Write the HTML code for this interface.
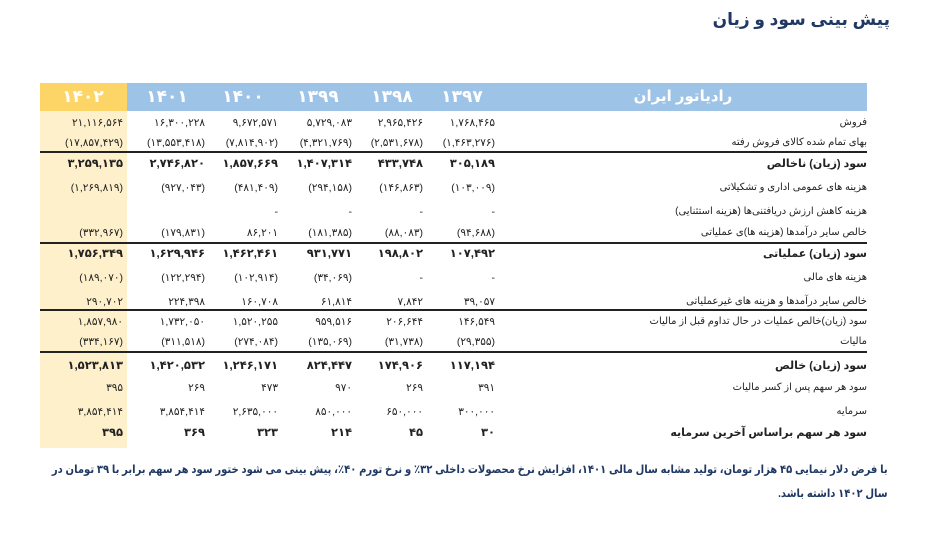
<!DOCTYPE html>
<html><head><meta charset="utf-8"><style>
body{margin:0;width:928px;height:534px;background:#fff;position:relative;overflow:hidden;font-family:"Liberation Sans","DejaVu Sans",sans-serif;}
.abs{position:absolute}
.ycol{left:40px;top:83px;width:87px;height:365px;background:#fdf0cb}
.hb{left:127px;top:83px;width:740px;height:28px;background:#9dc3e6}
.hy{left:40px;top:83px;width:87px;height:28px;background:#fdd566}
.h{position:absolute;top:83px;height:28px;line-height:28px;color:#fff;font-weight:bold;font-size:17px;transform:translateX(-50%);white-space:nowrap}
.r{position:absolute;left:0;width:928px;height:20px;line-height:20px;font-size:10.5px;color:#222}
.r span{position:absolute;direction:ltr;unicode-bidi:embed;white-space:nowrap}
.r .l{right:61px;direction:rtl;font-size:10px}
.c1{right:805px}.c2{right:723px}.c3{right:650px}.c4{right:576px}.c5{right:505px}.c6{right:433px}
.b{font-weight:bold;font-size:11.5px}
.b .l{font-size:11px}
.line{position:absolute;left:40px;width:827px;height:2px;background:#222}
.title{position:absolute;right:38px;top:10px;direction:rtl;color:#1f3864;font-weight:bold;font-size:17px}
.foot{position:absolute;right:40px;direction:rtl;color:#1f3864;font-weight:bold;font-size:11.5px;line-height:24px;top:458px;white-space:nowrap;text-align:right;transform:scaleX(0.87);transform-origin:right top}
</style></head><body>
<div class="title">پیش بینی سود و زیان</div>
<div class="abs ycol"></div>
<div class="abs hb"></div>
<div class="abs hy"></div>
<div class="h" style="left:83px">۱۴۰۲</div>
<div class="h" style="left:167px">۱۴۰۱</div>
<div class="h" style="left:243px">۱۴۰۰</div>
<div class="h" style="left:318px">۱۳۹۹</div>
<div class="h" style="left:392px">۱۳۹۸</div>
<div class="h" style="left:462px">۱۳۹۷</div>
<div class="h" style="left:683px;font-size:15px;direction:rtl">رادیاتور ایران</div>

<div class="r" style="top:113px"><span class="c1">۲۱,۱۱۶,۵۶۴</span><span class="c2">۱۶,۳۰۰,۲۲۸</span><span class="c3">۹,۶۷۲,۵۷۱</span><span class="c4">۵,۷۲۹,۰۸۳</span><span class="c5">۲,۹۶۵,۴۲۶</span><span class="c6">۱,۷۶۸,۴۶۵</span><span class="l">فروش</span></div>
<div class="r" style="top:133px"><span class="c1">(۱۷,۸۵۷,۴۲۹)</span><span class="c2">(۱۳,۵۵۳,۴۱۸)</span><span class="c3">(۷,۸۱۴,۹۰۲)</span><span class="c4">(۴,۳۲۱,۷۶۹)</span><span class="c5">(۲,۵۳۱,۶۷۸)</span><span class="c6">(۱,۴۶۳,۲۷۶)</span><span class="l">بهای تمام شده کالای فروش رفته</span></div>
<div class="line" style="top:151px"></div>
<div class="r b" style="top:154px"><span class="c1">۳,۲۵۹,۱۳۵</span><span class="c2">۲,۷۴۶,۸۲۰</span><span class="c3">۱,۸۵۷,۶۶۹</span><span class="c4">۱,۴۰۷,۳۱۴</span><span class="c5">۴۳۳,۷۴۸</span><span class="c6">۳۰۵,۱۸۹</span><span class="l">سود (زیان) ناخالص</span></div>
<div class="r" style="top:178px"><span class="c1">(۱,۲۶۹,۸۱۹)</span><span class="c2">(۹۲۷,۰۴۳)</span><span class="c3">(۴۸۱,۴۰۹)</span><span class="c4">(۲۹۴,۱۵۸)</span><span class="c5">(۱۴۶,۸۶۳)</span><span class="c6">(۱۰۳,۰۰۹)</span><span class="l">هزینه های عمومی اداری و تشکیلاتی</span></div>
<div class="r" style="top:202px"><span class="c3">-</span><span class="c4">-</span><span class="c5">-</span><span class="c6">-</span><span class="l">هزینه کاهش ارزش دریافتنی‌ها (هزینه استثنایی)</span></div>
<div class="r" style="top:223px"><span class="c1">(۳۳۲,۹۶۷)</span><span class="c2">(۱۷۹,۸۳۱)</span><span class="c3">۸۶,۲۰۱</span><span class="c4">(۱۸۱,۳۸۵)</span><span class="c5">(۸۸,۰۸۳)</span><span class="c6">(۹۴,۶۸۸)</span><span class="l">خالص سایر درآمدها (هزینه ها)ی عملیاتی</span></div>
<div class="line" style="top:242px"></div>
<div class="r b" style="top:244px"><span class="c1">۱,۷۵۶,۳۴۹</span><span class="c2">۱,۶۲۹,۹۴۶</span><span class="c3">۱,۴۶۲,۴۶۱</span><span class="c4">۹۳۱,۷۷۱</span><span class="c5">۱۹۸,۸۰۲</span><span class="c6">۱۰۷,۴۹۲</span><span class="l">سود (زیان) عملیاتی</span></div>
<div class="r" style="top:268px"><span class="c1">(۱۸۹,۰۷۰)</span><span class="c2">(۱۲۲,۲۹۴)</span><span class="c3">(۱۰۲,۹۱۴)</span><span class="c4">(۳۴,۰۶۹)</span><span class="c5">-</span><span class="c6">-</span><span class="l">هزینه های مالی</span></div>
<div class="r" style="top:292px"><span class="c1">۲۹۰,۷۰۲</span><span class="c2">۲۲۴,۳۹۸</span><span class="c3">۱۶۰,۷۰۸</span><span class="c4">۶۱,۸۱۴</span><span class="c5">۷,۸۴۲</span><span class="c6">۳۹,۰۵۷</span><span class="l">خالص سایر درآمدها و هزینه های غیرعملیاتی</span></div>
<div class="line" style="top:309px"></div>
<div class="r" style="top:312px"><span class="c1">۱,۸۵۷,۹۸۰</span><span class="c2">۱,۷۳۲,۰۵۰</span><span class="c3">۱,۵۲۰,۲۵۵</span><span class="c4">۹۵۹,۵۱۶</span><span class="c5">۲۰۶,۶۴۴</span><span class="c6">۱۴۶,۵۴۹</span><span class="l">سود (زیان)خالص عملیات در حال تداوم قبل از مالیات</span></div>
<div class="r" style="top:332px"><span class="c1">(۳۳۴,۱۶۷)</span><span class="c2">(۳۱۱,۵۱۸)</span><span class="c3">(۲۷۴,۰۸۴)</span><span class="c4">(۱۳۵,۰۶۹)</span><span class="c5">(۳۱,۷۳۸)</span><span class="c6">(۲۹,۳۵۵)</span><span class="l">مالیات</span></div>
<div class="line" style="top:351px"></div>
<div class="r b" style="top:356px"><span class="c1">۱,۵۲۳,۸۱۳</span><span class="c2">۱,۴۲۰,۵۳۲</span><span class="c3">۱,۲۴۶,۱۷۱</span><span class="c4">۸۲۴,۴۴۷</span><span class="c5">۱۷۴,۹۰۶</span><span class="c6">۱۱۷,۱۹۴</span><span class="l">سود (زیان) خالص</span></div>
<div class="r" style="top:378px"><span class="c1">۳۹۵</span><span class="c2">۲۶۹</span><span class="c3">۴۷۳</span><span class="c4">۹۷۰</span><span class="c5">۲۶۹</span><span class="c6">۳۹۱</span><span class="l">سود هر سهم پس از کسر مالیات</span></div>
<div class="r" style="top:402px"><span class="c1">۳,۸۵۴,۴۱۴</span><span class="c2">۳,۸۵۴,۴۱۴</span><span class="c3">۲,۶۳۵,۰۰۰</span><span class="c4">۸۵۰,۰۰۰</span><span class="c5">۶۵۰,۰۰۰</span><span class="c6">۳۰۰,۰۰۰</span><span class="l">سرمایه</span></div>
<div class="r b" style="top:423px"><span class="c1">۳۹۵</span><span class="c2">۳۶۹</span><span class="c3">۳۲۳</span><span class="c4">۲۱۴</span><span class="c5">۴۵</span><span class="c6">۳۰</span><span class="l">سود هر سهم براساس آخرین سرمایه</span></div>

<div class="foot">با فرض دلار نیمایی ۴۵ هزار تومان، تولید مشابه سال مالی ۱۴۰۱، افزایش نرخ محصولات داخلی ۳۲٪ و نرخ تورم ۴۰٪، پیش بینی می شود ختور سود هر سهم برابر با ۳۹ تومان در<br>سال ۱۴۰۲ داشته باشد.</div>
</body></html>
